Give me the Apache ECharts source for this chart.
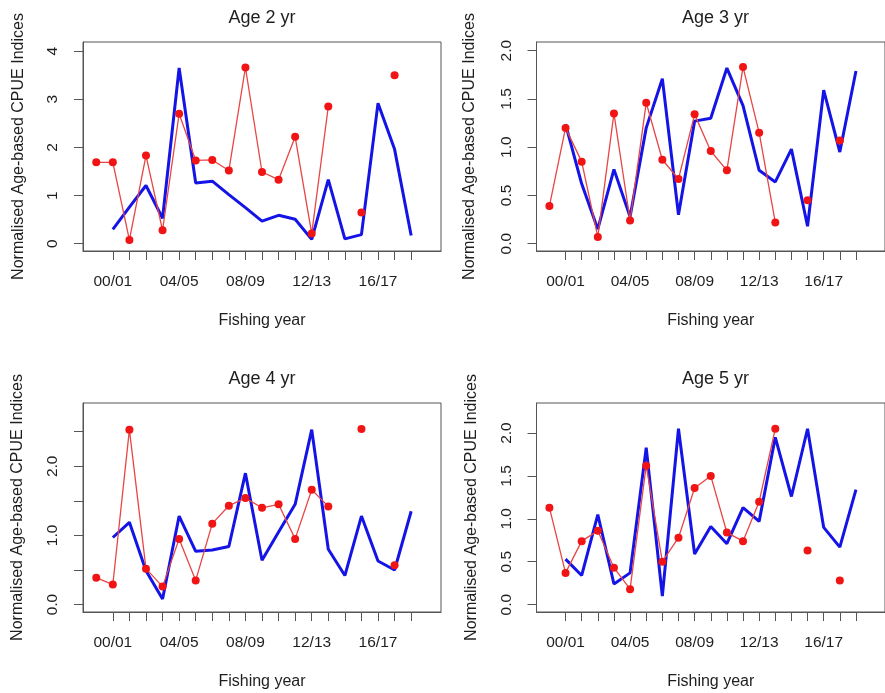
<!DOCTYPE html>
<html><head><meta charset="utf-8">
<script src="https://cdn.jsdelivr.net/npm/echarts@6/dist/echarts.min.js"></script>
<style>html,body{margin:0;padding:0;background:#fff}#c{width:885px;height:693px}</style>
</head><body><div id="c"></div>
<script>
// ---------------- data ----------------
const seasons = ['99/00','00/01','01/02','02/03','03/04','04/05','05/06','06/07','07/08','08/09','09/10',
                 '10/11','11/12','12/13','13/14','14/15','15/16','16/17','17/18','18/19','19/20'];
const tickSeasons = ['00/01','01/02','02/03','03/04','04/05','05/06','06/07','07/08','08/09','09/10',
                     '10/11','11/12','12/13','13/14','14/15','15/16','16/17','17/18','18/19'];
const tickLabels = ['00/01','04/05','08/09','12/13','16/17'];
const panelTitles = ['Age 2 yr','Age 3 yr','Age 4 yr','Age 5 yr'];
const yAxisTitle = 'Normalised Age-based CPUE Indices';
const xAxisTitle = 'Fishing year';

// red points/line (observed) and blue line (fitted)
const age2Obs = [1.69,1.69,0.08,1.83,0.28,2.70,1.73,1.74,1.52,3.66,1.49,1.33,2.22,0.21,2.85,null,0.65,null,3.50,null,null];
const age2Fit = [null,0.30,0.76,1.21,0.53,3.65,1.26,1.30,1.02,0.75,0.47,0.59,0.51,0.09,1.33,0.10,0.19,2.92,1.96,0.17,null];
const age3Obs = [0.39,1.20,0.85,0.07,1.35,0.24,1.46,0.87,0.67,1.34,0.96,0.76,1.83,1.15,0.22,null,0.45,null,1.07,null,null];
const age3Fit = [null,1.24,0.62,0.15,0.77,0.28,1.20,1.71,0.30,1.27,1.30,1.82,1.43,0.76,0.64,0.98,0.18,1.59,0.95,1.79,null];
const age4Obs = [0.39,0.29,2.53,0.52,0.26,0.95,0.35,1.17,1.43,1.54,1.40,1.45,0.95,1.66,1.42,null,2.54,null,0.57,null,null];
const age4Fit = [null,0.97,1.19,0.49,0.08,1.28,0.77,0.79,0.84,1.90,0.64,1.05,1.45,2.53,0.80,0.42,1.28,0.63,0.50,1.35,null];
const age5Obs = [1.13,0.37,0.74,0.86,0.43,0.18,1.62,0.50,0.78,1.36,1.50,0.84,0.74,1.20,2.05,null,0.63,null,0.28,null,null];
const age5Fit = [null,0.53,0.34,1.05,0.24,0.37,1.83,0.10,2.05,0.59,0.91,0.71,1.13,0.97,1.95,1.26,2.05,0.90,0.67,1.34,null];

// y-axis ticks and labelled ticks per panel
const yTicks2 = [0,1,2,3,4];           const yLabels2 = [0,1,2,3,4];
const yTicks3 = [0,0.5,1,1.5,2];       const yLabels3 = [0,0.5,1,1.5,2];
const yTicks4 = [0,0.5,1,1.5,2,2.5];   const yLabels4 = [0,1,2];
const yTicks5 = [0,0.5,1,1.5,2];       const yLabels5 = [0,0.5,1,1.5,2];

// ---------------- layout / style ----------------
const FONT = '"Liberation Sans", Arial, Helvetica, sans-serif';
const TXT = '#1e1e1e', AX = '#555555';
const RED_PT = '#f01414', RED_LN = '#e84545', BLUE = '#1414e6';
const W = 358, H = 209;
const panels = [
  {left: 83,    top: 42,  obs: age2Obs, fit: age2Fit, ymin: -0.151, ymax: 4.19,  ticks: yTicks2, labels: yLabels2, dec: 0, ngap: 56},
  {left: 536.5, top: 42,  obs: age3Obs, fit: age3Fit, ymin: -0.076, ymax: 2.09,  ticks: yTicks3, labels: yLabels3, dec: 1, ngap: 59},
  {left: 83,    top: 403, obs: age4Obs, fit: age4Fit, ymin: -0.107, ymax: 2.915, ticks: yTicks4, labels: yLabels4, dec: 1, ngap: 57},
  {left: 536.5, top: 403, obs: age5Obs, fit: age5Fit, ymin: -0.086, ymax: 2.35,  ticks: yTicks5, labels: yLabels5, dec: 1, ngap: 57}
];

const tickIdx = tickSeasons.map(s => seasons.indexOf(s));
const labelIdx = tickLabels.map(s => seasons.indexOf(s));
const nX = seasons.length - 1;
const xPad = 0.04 * nX;

const grid = [], xAxis = [], yAxis = [], series = [], graphic = [];
panels.forEach((p, k) => {
  grid.push({left: p.left, top: p.top, width: W, height: H, show: true,
             borderColor: AX, borderWidth: 1, backgroundColor: 'transparent'});
  xAxis.push({
    type: 'value', gridIndex: k, min: -xPad, max: nX + xPad,
    axisLine: {show: true, onZero: false, lineStyle: {color: AX, width: 1}},
    axisTick: {show: true, inside: false, length: 9, customValues: tickIdx, lineStyle: {color: AX, width: 1}},
    axisLabel: {show: true, customValues: labelIdx, margin: 23, formatter: v => seasons[Math.round(v)] || '',
                color: TXT, fontSize: 15.5, fontFamily: FONT, hideOverlap: false},
    splitLine: {show: false},
    name: xAxisTitle, nameLocation: 'middle', nameGap: 62,
    nameTextStyle: {color: TXT, fontSize: 16, fontFamily: FONT}
  });
  yAxis.push({
    type: 'value', gridIndex: k, min: p.ymin, max: p.ymax,
    axisLine: {show: true, onZero: false, lineStyle: {color: AX, width: 1}},
    axisTick: {show: true, inside: false, length: 9, customValues: p.ticks, lineStyle: {color: AX, width: 1}},
    axisLabel: {show: true, customValues: p.labels, rotate: 90, margin: 22,
                formatter: v => Number(v).toFixed(p.dec),
                color: TXT, fontSize: 15.5, fontFamily: FONT, hideOverlap: false},
    splitLine: {show: false},
    name: yAxisTitle, nameLocation: 'middle', nameGap: p.ngap, nameRotate: 90,
    nameTextStyle: {color: TXT, fontSize: 16, fontFamily: FONT}
  });
  series.push({
    type: 'line', xAxisIndex: k, yAxisIndex: k, z: 2,
    data: p.fit.map((v, i) => [i, v]),
    showSymbol: false, connectNulls: false, silent: true,
    lineStyle: {color: BLUE, width: 3}, itemStyle: {color: BLUE}
  });
  series.push({
    type: 'line', xAxisIndex: k, yAxisIndex: k, z: 3,
    data: p.obs.map((v, i) => [i, v]),
    showSymbol: true, showAllSymbol: true, symbol: 'circle', symbolSize: 8, connectNulls: false, silent: true,
    lineStyle: {color: RED_LN, width: 1.3}, itemStyle: {color: RED_PT, borderWidth: 0}
  });
  graphic.push({
    type: 'text', x: p.left + W / 2, y: p.top - 24,
    style: {text: panelTitles[k], fill: TXT, font: '18px ' + FONT, textAlign: 'center', textVerticalAlign: 'middle'}
  });
});

const chart = echarts.init(document.getElementById('c'), null, {renderer: 'canvas'});
chart.setOption({
  backgroundColor: '#ffffff', animation: false,
  grid, xAxis, yAxis, series, graphic
});
</script></body></html>
